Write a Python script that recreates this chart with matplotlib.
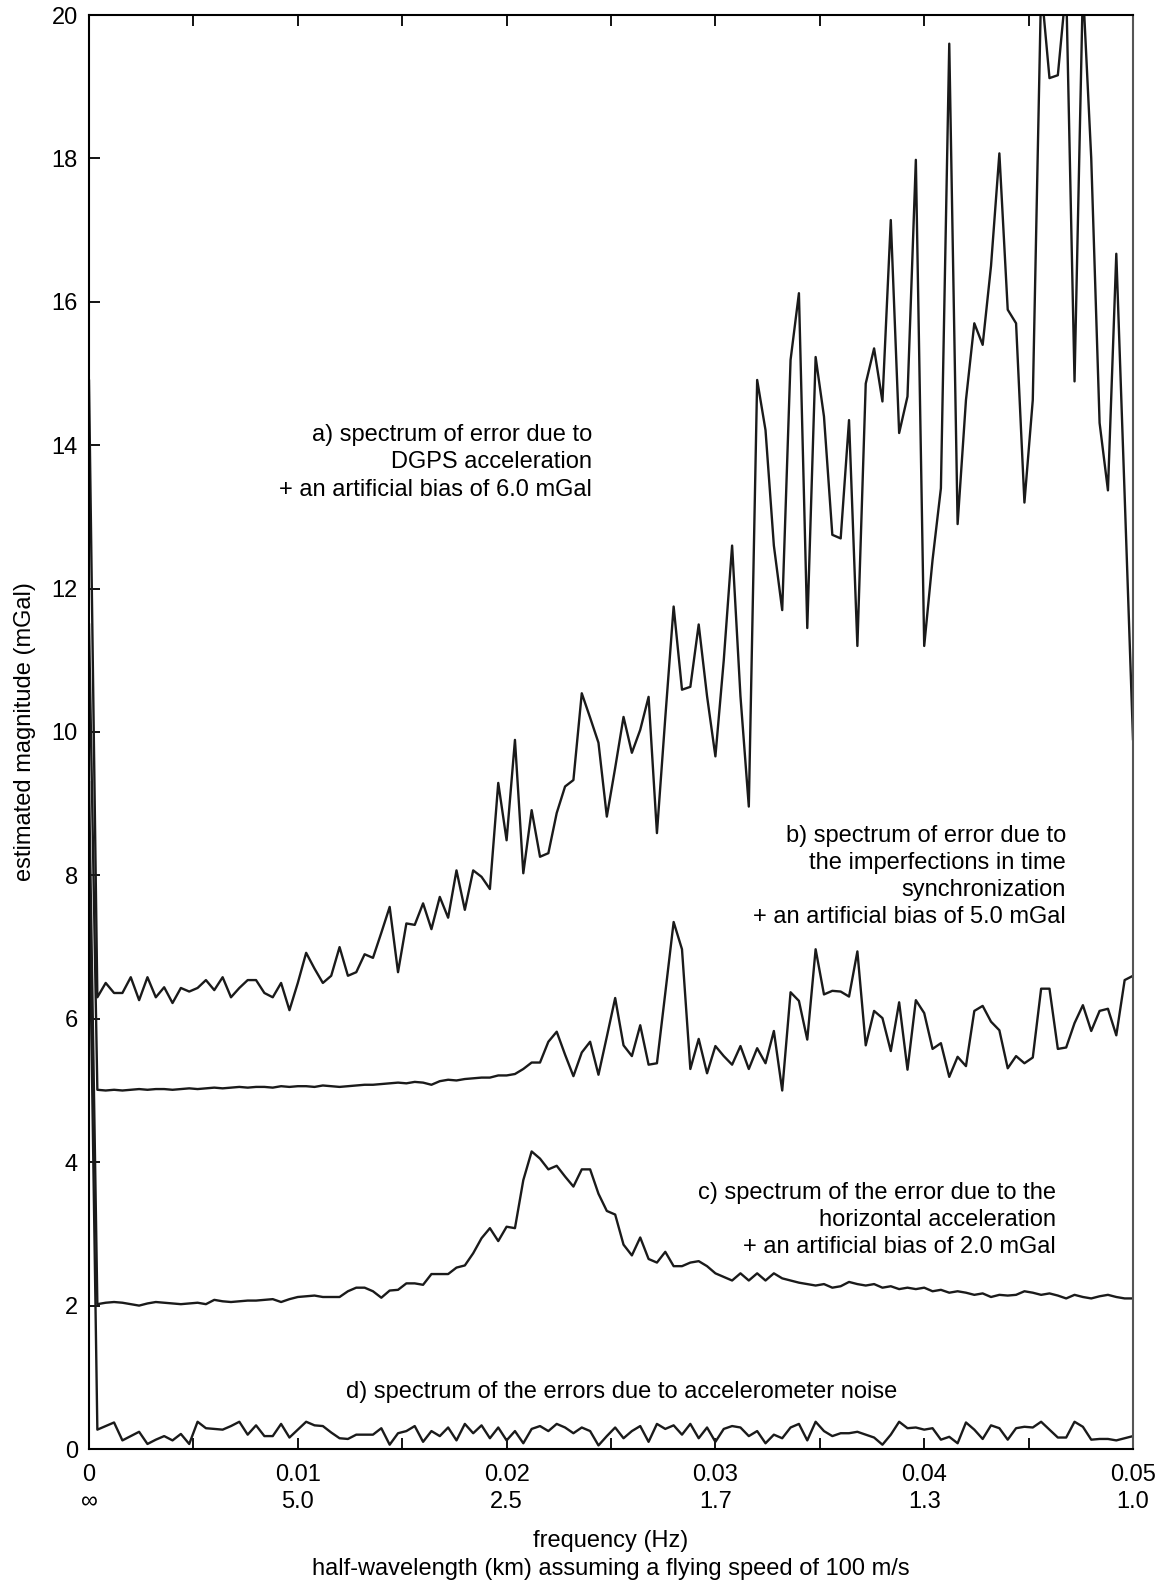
import matplotlib.pyplot as plt
import numpy as np

plt.rcParams['font.family'] = ['Liberation Sans', 'DejaVu Sans']
plt.rcParams['font.size'] = 17

# frequency grid (Hz), 0.0004 Hz spacing up to 0.05 Hz
freq = np.arange(126) * 0.0004

# a) DGPS acceleration error + 6.0 mGal bias
dgps = [14.90,
        6.30, 6.50, 6.36, 6.36, 6.58, 6.26, 6.58, 6.30, 6.44, 6.22,
        6.43, 6.38, 6.43, 6.54, 6.40, 6.58, 6.30, 6.43, 6.54, 6.54,
        6.36, 6.30, 6.50, 6.12, 6.50, 6.92, 6.70, 6.50, 6.60, 7.00,
        6.60, 6.65, 6.90, 6.85, 7.20, 7.56, 6.65, 7.33, 7.31, 7.61,
        7.25, 7.70, 7.41, 8.07, 7.52, 8.07, 7.98, 7.81, 9.29, 8.49,
        9.89, 8.03, 8.91, 8.26, 8.31, 8.87, 9.24, 9.33, 10.54, 10.20,
        9.85, 8.82, 9.50, 10.21, 9.71, 10.03, 10.49, 8.59, 10.20, 11.75,
        10.59, 10.63, 11.50, 10.50, 9.66, 11.00, 12.60, 10.50, 8.96, 14.91,
        14.21, 12.60, 11.70, 15.19, 16.12, 11.45, 15.23, 14.40, 12.75, 12.70,
        14.35, 11.20, 14.86, 15.35, 14.61, 17.14, 14.17, 14.68, 17.98, 11.20,
        12.40, 13.40, 19.60, 12.90, 14.63, 15.70, 15.40, 16.50, 18.07, 15.89,
        15.70, 13.20, 14.63, 20.40, 19.12, 19.16, 20.40, 14.89, 20.40, 18.00,
        14.31, 13.37, 16.67, 13.30, 9.90]

# b) time synchronization error + 5.0 mGal bias
sync = [11.50,
        5.01, 5.00, 5.01, 5.00, 5.01, 5.02, 5.01, 5.02, 5.02, 5.01,
        5.02, 5.03, 5.02, 5.03, 5.04, 5.03, 5.04, 5.05, 5.04, 5.05,
        5.05, 5.04, 5.06, 5.05, 5.06, 5.06, 5.05, 5.07, 5.06, 5.05,
        5.06, 5.07, 5.08, 5.08, 5.09, 5.10, 5.11, 5.10, 5.12, 5.11,
        5.08, 5.13, 5.15, 5.14, 5.16, 5.17, 5.18, 5.18, 5.21, 5.21,
        5.23, 5.30, 5.39, 5.39, 5.68, 5.82, 5.50, 5.20, 5.53, 5.68,
        5.22, 5.75, 6.29, 5.63, 5.48, 5.91, 5.36, 5.38, 6.36, 7.35,
        6.97, 5.30, 5.72, 5.24, 5.62, 5.48, 5.36, 5.62, 5.30, 5.59,
        5.38, 5.83, 5.00, 6.37, 6.25, 5.71, 6.97, 6.34, 6.39, 6.38,
        6.31, 6.94, 5.63, 6.11, 6.01, 5.55, 6.23, 5.29, 6.26, 6.08,
        5.58, 5.66, 5.19, 5.47, 5.34, 6.11, 6.18, 5.96, 5.84, 5.31,
        5.48, 5.38, 5.46, 6.42, 6.42, 5.58, 5.60, 5.94, 6.19, 5.83,
        6.11, 6.14, 5.77, 6.54, 6.60]

# c) horizontal acceleration error + 2.0 mGal bias
horiz = [9.30,
         2.02, 2.04, 2.05, 2.04, 2.02, 2.00, 2.03, 2.05, 2.04, 2.03,
         2.02, 2.03, 2.04, 2.02, 2.08, 2.06, 2.05, 2.06, 2.07, 2.07,
         2.08, 2.09, 2.05, 2.09, 2.12, 2.13, 2.14, 2.12, 2.12, 2.12,
         2.20, 2.25, 2.25, 2.20, 2.11, 2.21, 2.22, 2.31, 2.31, 2.29,
         2.44, 2.44, 2.44, 2.53, 2.56, 2.73, 2.94, 3.08, 2.90, 3.10,
         3.08, 3.75, 4.15, 4.05, 3.90, 3.95, 3.80, 3.66, 3.90, 3.90,
         3.56, 3.32, 3.27, 2.85, 2.70, 2.95, 2.65, 2.60, 2.75, 2.55,
         2.55, 2.60, 2.62, 2.55, 2.45, 2.40, 2.35, 2.45, 2.35, 2.45,
         2.35, 2.45, 2.38, 2.35, 2.32, 2.30, 2.28, 2.30, 2.25, 2.27,
         2.33, 2.30, 2.28, 2.30, 2.25, 2.27, 2.23, 2.25, 2.23, 2.25,
         2.20, 2.22, 2.18, 2.20, 2.18, 2.15, 2.17, 2.12, 2.15, 2.14,
         2.15, 2.20, 2.18, 2.15, 2.17, 2.14, 2.10, 2.15, 2.12, 2.10,
         2.13, 2.15, 2.12, 2.10, 2.10]

# d) accelerometer noise error
accel = [8.00,
         0.27, 0.32, 0.37, 0.12, 0.18, 0.24, 0.07, 0.13, 0.18, 0.12,
         0.21, 0.07, 0.38, 0.29, 0.28, 0.27, 0.32, 0.38, 0.20, 0.33,
         0.18, 0.18, 0.35, 0.16, 0.27, 0.38, 0.33, 0.32, 0.23, 0.15,
         0.14, 0.20, 0.20, 0.20, 0.29, 0.06, 0.22, 0.25, 0.32, 0.10,
         0.25, 0.18, 0.30, 0.12, 0.35, 0.22, 0.33, 0.15, 0.30, 0.12,
         0.25, 0.08, 0.28, 0.32, 0.25, 0.35, 0.30, 0.22, 0.30, 0.25,
         0.05, 0.18, 0.30, 0.15, 0.25, 0.32, 0.10, 0.35, 0.28, 0.33,
         0.20, 0.35, 0.15, 0.30, 0.10, 0.28, 0.32, 0.30, 0.18, 0.25,
         0.08, 0.20, 0.15, 0.30, 0.35, 0.12, 0.38, 0.25, 0.18, 0.22,
         0.22, 0.24, 0.20, 0.16, 0.06, 0.20, 0.38, 0.29, 0.30, 0.27,
         0.29, 0.13, 0.17, 0.08, 0.37, 0.27, 0.14, 0.33, 0.29, 0.13,
         0.29, 0.31, 0.30, 0.38, 0.27, 0.16, 0.16, 0.38, 0.31, 0.13,
         0.14, 0.14, 0.12, 0.15, 0.18]

xtick_pos = [0, 0.01, 0.02, 0.03, 0.04, 0.05]
xtick_labels = ['0\n\u221e', '0.01\n5.0', '0.02\n2.5', '0.03\n1.7', '0.04\n1.3', '0.05\n1.0']
ytick_pos = [0, 2, 4, 6, 8, 10, 12, 14, 16, 18, 20]

fig = plt.figure(figsize=(11.73, 15.83), dpi=100)
ax = fig.add_axes([89 / 1173, 1 - 1449 / 1583, (1133 - 89) / 1173, (1449 - 15) / 1583])

for series in [dgps, sync, horiz, accel]:
    ax.plot(freq, series, color='#1a1a1a', lw=1.7)

ax.set_xlim(0, 0.05)
ax.set_ylim(0, 20)
ax.set_xticks(xtick_pos)
ax.set_xticklabels(xtick_labels)
ax.set_xticks(np.arange(0.005, 0.05, 0.01), minor=True)
ax.set_yticks(ytick_pos)
ax.tick_params(axis='x', which='both', direction='in', top=True, length=8, width=1.3, pad=11)
ax.tick_params(axis='y', direction='in', length=8, width=1.3, pad=8)
for t in ax.get_xticklabels():
    t.set_linespacing(1.3)
for sp in ax.spines.values():
    sp.set_linewidth(1.5)
ax.spines['right'].set_color('#555555')

ax.set_xlabel('frequency (Hz)\nhalf-wavelength (km) assuming a flying speed of 100 m/s',
              linespacing=1.35, labelpad=12)
ax.set_ylabel('estimated magnitude (mGal)', labelpad=11)

ax.text(0.0241, 13.76, 'a) spectrum of error due to\nDGPS acceleration\n+ an artificial bias of 6.0 mGal',
        ha='right', va='center', multialignment='right', linespacing=1.3)
ax.text(0.0468, 7.98, 'b) spectrum of error due to\nthe imperfections in time\nsynchronization\n+ an artificial bias of 5.0 mGal',
        ha='right', va='center', multialignment='right', linespacing=1.3)
ax.text(0.0463, 3.19, 'c) spectrum of the error due to the\nhorizontal acceleration\n+ an artificial bias of 2.0 mGal',
        ha='right', va='center', multialignment='right', linespacing=1.3)
ax.text(0.0255, 0.80, 'd) spectrum of the errors due to accelerometer noise', ha='center', va='center')

fig.savefig('out.png', dpi=100)
